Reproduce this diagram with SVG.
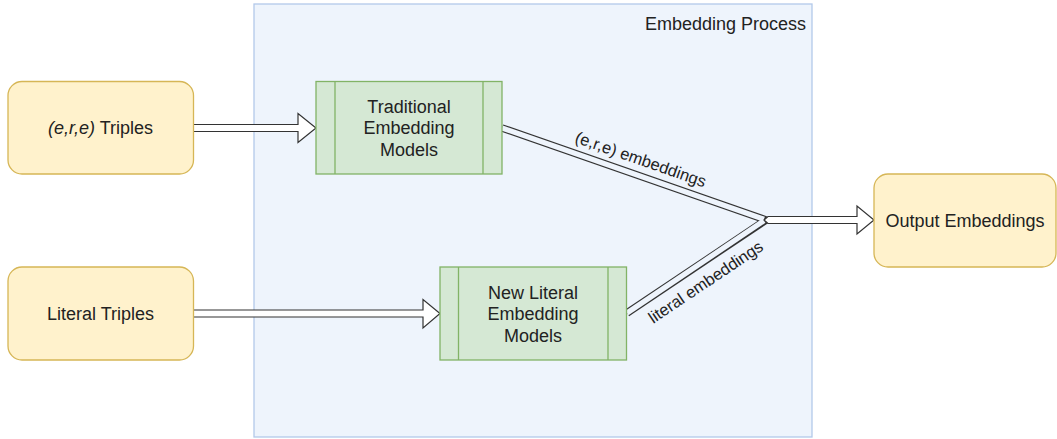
<svg xmlns="http://www.w3.org/2000/svg" width="1057" height="439" viewBox="0 0 1057 439">
  <style>
    .lbl { font-family: "Liberation Sans", Arial, Helvetica, sans-serif; font-size: 18px; fill: #222; text-anchor: middle; }
    .edge-lbl { font-family: "Liberation Sans", Arial, Helvetica, sans-serif; font-size: 16.5px; fill: #222; text-anchor: middle; }
    .data { fill: #fff2cc; stroke: #d6b656; stroke-width: 1.3; }
    .proc { fill: #d5e8d4; stroke: #82b366; stroke-width: 1.3; }
    .proc-line { stroke: #82b366; stroke-width: 1.3; fill: none; }
    .arrow { fill: #ffffff; stroke: #333; stroke-width: 1.2; stroke-linejoin: miter; }
    .link-outer { fill: none; stroke: #333; stroke-width: 7.6; stroke-linecap: butt; }
    .link-inner { fill: none; stroke: #eef4fc; stroke-width: 5.2; stroke-linecap: butt; }
  </style>

  <!-- container -->
  <g id="embedding-process">
    <rect x="254" y="4" width="558" height="433" fill="#eef4fc" stroke="#b3c9ea" stroke-width="1.3"/>
    <text class="lbl" x="806" y="30" style="text-anchor:end">Embedding Process</text>
  </g>

  <!-- connectors -->
  <g id="connectors">
    <polygon class="arrow" points="193,124.5 298,124.5 298,113.5 316,128 298,142.5 298,131.5 193,131.5"/>
    <polygon class="arrow" points="193,310 423,310 423,299.5 440,313.5 423,328 423,317 193,317"/>
    <path class="link-outer" d="M502,128 L766,220"/>
    <path class="link-outer" d="M627,313 L766,220"/>
    <path class="link-inner" d="M502,128 L764,219.3"/>
    <path class="link-inner" d="M627,313 L764,220.7"/>
    <polygon class="arrow" points="764,220 768,216.5 857,216.5 857,206 874,220 857,234 857,223.5 768,223.5"/>
    <text class="edge-lbl" transform="translate(640.5,160) rotate(19.3)" y="5">(e,r,e) embeddings</text>
    <text class="edge-lbl" transform="translate(706,282.5) rotate(-33.8)" y="5">literal embeddings</text>
  </g>

  <!-- input nodes -->
  <g id="ere-triples">
    <rect class="data" x="8" y="81.5" width="185.5" height="92.5" rx="14" ry="14"/>
    <text class="lbl" x="100.5" y="134"><tspan font-style="italic">(e,r,e)</tspan> Triples</text>
  </g>
  <g id="literal-triples">
    <rect class="data" x="8" y="267" width="185.5" height="93" rx="14" ry="14"/>
    <text class="lbl" x="100.5" y="320">Literal Triples</text>
  </g>

  <!-- processing nodes -->
  <g id="traditional-models">
    <rect class="proc" x="316" y="81.5" width="186" height="92.5"/>
    <line class="proc-line" x1="335" y1="81.5" x2="335" y2="174"/>
    <line class="proc-line" x1="483" y1="81.5" x2="483" y2="174"/>
    <text class="lbl" x="409" y="112.5">Traditional</text>
    <text class="lbl" x="409" y="134">Embedding</text>
    <text class="lbl" x="409" y="155.5">Models</text>
  </g>
  <g id="literal-models">
    <rect class="proc" x="440" y="267" width="186.5" height="93"/>
    <line class="proc-line" x1="458.5" y1="267" x2="458.5" y2="360"/>
    <line class="proc-line" x1="608" y1="267" x2="608" y2="360"/>
    <text class="lbl" x="533" y="298.5">New Literal</text>
    <text class="lbl" x="533" y="320">Embedding</text>
    <text class="lbl" x="533" y="341.5">Models</text>
  </g>

  <!-- output node -->
  <g id="output-embeddings">
    <rect class="data" x="874" y="174" width="182" height="93" rx="14" ry="14"/>
    <text class="lbl" x="965" y="226.5">Output Embeddings</text>
  </g>
</svg>
